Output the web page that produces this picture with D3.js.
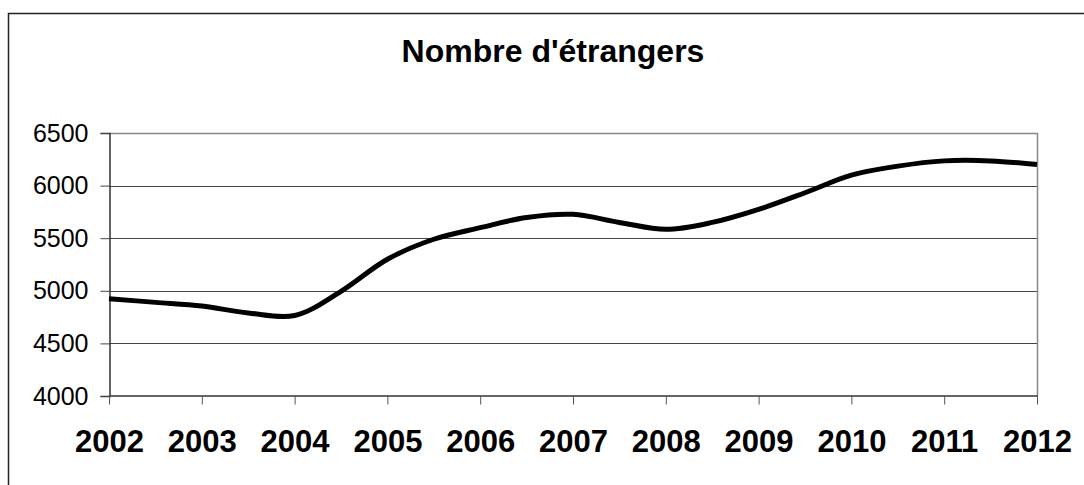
<!DOCTYPE html>
<html>

<head>
	<meta charset='utf-8'>
	<style>
		body { margin: 0; background: #fff; }
		svg { display: block; font-family: 'Liberation Sans', Arial, sans-serif; }
	</style>
</head>

<body>
	<svg></svg>
	<script src="https://d3js.org/d3.v7.min.js"></script>
	<script>
		var title = "Nombre d'étrangers";
		var yearLabels = [2002, 2003, 2004, 2005, 2006, 2007, 2008, 2009, 2010, 2011, 2012];
		var yTicks = [4000, 4500, 5000, 5500, 6000, 6500];
		// readings every half year
		var times = [2002, 2002.5, 2003, 2003.5, 2004, 2004.5, 2005, 2005.5, 2006, 2006.5, 2007,
			2007.5, 2008, 2008.5, 2009, 2009.5, 2010, 2010.5, 2011, 2011.5, 2012];
		var values = [4925, 4890, 4855, 4790, 4765, 4995, 5300, 5490, 5600, 5697, 5727,
			5650, 5584, 5650, 5774, 5932, 6100, 6185, 6235, 6235, 6200];

		var width = 1084, height = 485;
		var plotLeft = 109, plotRight = 1037, plotTop = 133, plotBottom = 396;

		var svg = d3.select('svg').attr('width', width).attr('height', height);

		// outer chart frame (runs off the picture at right and bottom)
		svg.append('rect').attr('x', 8.5).attr('y', 13.5).attr('width', 1100).attr('height', 500)
			.attr('fill', 'none').attr('stroke', '#222').attr('stroke-width', 1.5);

		var x = d3.scaleLinear().domain([2002, 2012]).range([plotLeft, plotRight]);
		var y = d3.scaleLinear().domain([4000, 6500]).range([plotBottom, plotTop]);

		// gridlines
		svg.append('g').selectAll('line').data(yTicks.slice(1, -1)).enter().append('line')
			.attr('x1', plotLeft).attr('x2', plotRight)
			.attr('y1', d => Math.round(y(d)) + 0.5).attr('y2', d => Math.round(y(d)) + 0.5)
			.attr('stroke', '#444').attr('stroke-width', 1);

		// plot area border top / right
		svg.append('path')
			.attr('d', 'M' + plotLeft + ',' + (plotTop + 0.5) + 'H' + (plotRight + 0.5) + 'V' + plotBottom)
			.attr('fill', 'none').attr('stroke', '#888').attr('stroke-width', 1.5);

		var yAxis = d3.axisLeft(y).tickValues(yTicks).tickFormat(d3.format('d')).tickSize(9).tickPadding(12);
		var gy = svg.append('g').attr('transform', 'translate(' + (plotLeft + 0.5) + ',0)').call(yAxis);
		gy.select('.domain').attr('stroke', '#333').attr('stroke-width', 1.5);
		gy.selectAll('.tick line').attr('stroke', '#444');
		gy.selectAll('.tick text').attr('font-size', 25).attr('fill', '#000')
			.attr('font-family', "'Liberation Sans', Arial, sans-serif");

		var xAxis = d3.axisBottom(x).tickValues(yearLabels).tickFormat(d3.format('d'))
			.tickSize(9).tickSizeOuter(0).tickPadding(25);
		var gx = svg.append('g').attr('transform', 'translate(0,' + (plotBottom - 0.5) + ')').call(xAxis);
		gx.select('.domain').attr('stroke', '#333').attr('stroke-width', 1.5);
		gx.selectAll('.tick line').attr('stroke', '#555');
		gx.selectAll('.tick text').attr('font-size', 31).attr('font-weight', 'bold').attr('fill', '#000')
			.attr('font-family', "'Liberation Sans', Arial, sans-serif");

		var line = d3.line()
			.x((d, i) => x(times[i]))
			.y(d => y(d))
			.curve(d3.curveCatmullRom);

		svg.append('path').datum(values)
			.attr('d', line)
			.attr('fill', 'none').attr('stroke', '#000').attr('stroke-width', 5)
			.attr('stroke-linejoin', 'round');

		svg.append('text').attr('x', 553).attr('y', 62).attr('text-anchor', 'middle')
			.attr('font-size', 32).attr('font-weight', 'bold').text(title);
	</script>
</body>

</html>
